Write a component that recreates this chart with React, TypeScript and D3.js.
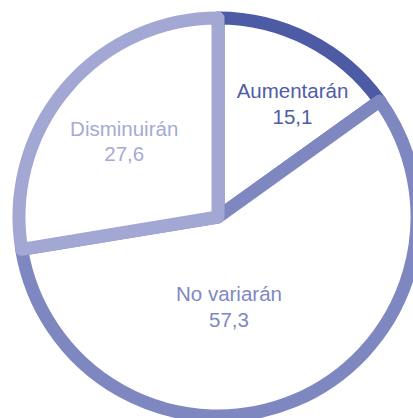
import React from "react";
import * as d3 from "d3";

const categories = ["Aumentarán", "No variarán", "Disminuirán"];
const values = [15.1, 57.3, 27.6];
const valueLabels = ["15,1", "57,3", "27,6"];
const strokeColors = ["#4d5ba4", "#7e87bf", "#a2a7d3"];
const textColors = ["#4f5ca6", "#7f88c1", "#a6aad6"];
// label anchor: polar angle (deg, clockwise from top) and distance from centre
const labelAngles = [33, 172.9, 309.4];
const labelDists = [136.8, 88.7, 121.4];

const W = 413;
const H = 418;
const cx = 218;
const cy = 217;
const R = 199;
const SW = 13;

export default function App() {
  const pie = d3
    .pie<number>()
    .sort(null)
    .startAngle(0)
    .endAngle(2 * Math.PI);
  const arcs = pie(values);
  const arcGen = d3.arc<d3.PieArcDatum<number>>().innerRadius(0).outerRadius(R);

  return (
    <svg
      width={W}
      height={H}
      style={{ position: "absolute", left: 0, top: 0, display: "block", background: "#fff" }}
    >
      <g transform={`translate(${cx},${cy})`}>
        {arcs.map((a, i) => (
          <path
            key={i}
            d={arcGen(a) || ""}
            fill="#fff"
            stroke={strokeColors[i]}
            strokeWidth={SW}
            strokeLinejoin="round"
          />
        ))}
        {categories.map((c, i) => {
          const [x, y] = d3.pointRadial((labelAngles[i] * Math.PI) / 180, labelDists[i]);
          return (
            <text
              key={c}
              x={x}
              y={y}
              textAnchor="middle"
              fill={textColors[i]}
              style={{ fontFamily: "Liberation Sans, Arial, sans-serif", fontSize: 20.5, fontWeight: 300 }}
            >
              <tspan x={x} dy={-4}>{c}</tspan>
              <tspan x={x} dy={25.5}>{valueLabels[i]}</tspan>
            </text>
          );
        })}
      </g>
    </svg>
  );
}
